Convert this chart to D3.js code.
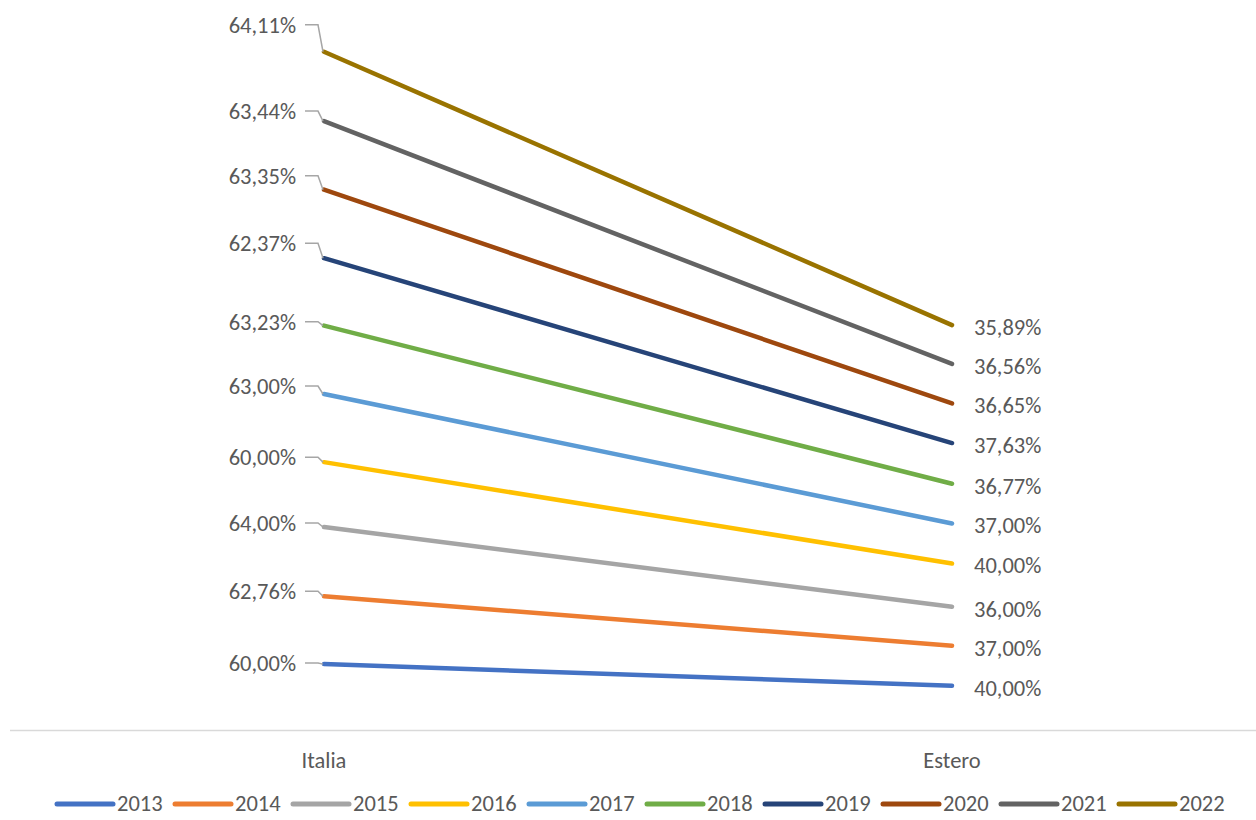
<!DOCTYPE html>
<html>
<head>
<meta charset="utf-8">
<script src="https://cdn.jsdelivr.net/npm/d3@7"></script>
<style>
  html, body { margin: 0; padding: 0; background: #fff; overflow: hidden; }
  svg { display: block; font-family: Carlito, Calibri, Lato, "Liberation Sans", sans-serif; }
</style>
</head>
<body>
<svg id="chart" width="1256" height="820"></svg>
<script>
// Quota percentuale Italia / Estero per anno (linee impilate)
const categories = ["Italia", "Estero"];
const years = ["2013", "2014", "2015", "2016", "2017", "2018", "2019", "2020", "2021", "2022"];
const italia = [60.00, 62.76, 64.00, 60.00, 63.00, 63.23, 62.37, 63.35, 63.44, 64.11];
const estero = [40.00, 37.00, 36.00, 40.00, 37.00, 36.77, 37.63, 36.65, 36.56, 35.89];
const colors = ["#4472C4", "#ED7D31", "#A5A5A5", "#FFC000", "#5B9BD5",
                "#70AD47", "#264478", "#9E480E", "#636363", "#997300"];

// Vertical nudges (px) for the Italia labels, which sit above-left with leader lines
const italiaLabelShift = [-1, -5, -4, -5, -8, -4, -15, -14, -10, -27];

const svg = d3.select("#chart");
const textColor = "#595959";
const fontSize = 22.5;

const x = d3.scalePoint().domain(categories).range([10, 1266]).padding(0.5);
const y = d3.scaleLinear().domain([0, 700]).range([729, -28]);

// Stack the two categories so each year sits on top of the previous ones
const rows = years.map((yr, i) => ({ Italia: italia[i], Estero: estero[i] }));
const stacked = categories.map(cat => {
  const s = d3.stack().keys(years)([Object.fromEntries(years.map((yr, i) => [yr, rows[i][cat]]))]);
  return s.map(layer => layer[0][1]);
});
const series = years.map((yr, i) => ({
  year: yr, color: colors[i],
  values: categories.map((cat, c) => ({ cat, top: stacked[c][i], raw: rows[i][cat] }))
}));

// Category axis baseline
svg.append("line")
  .attr("x1", 10).attr("x2", 1256)
  .attr("y1", 730.5).attr("y2", 730.5)
  .attr("stroke", "#d9d9d9").attr("stroke-width", 1.5);

svg.append("g").selectAll("text").data(categories).join("text")
  .attr("x", d => x(d)).attr("y", 768)
  .attr("text-anchor", "middle")
  .attr("fill", textColor).attr("font-size", fontSize)
  .text(d => d);

const line = d3.line().x(d => x(d.cat)).y(d => y(d.top));

svg.append("g").selectAll("path").data(series).join("path")
  .attr("d", d => line(d.values))
  .attr("fill", "none")
  .attr("stroke", d => d.color)
  .attr("stroke-width", 4.5)
  .attr("stroke-linecap", "round");

const fmt = v => v.toFixed(2).replace(".", ",") + "%";

// Italia labels with leader lines
const leftG = svg.append("g");
series.forEach((s, i) => {
  const p = s.values[0];
  const px = x(p.cat), py = y(p.top);
  const ly = py + italiaLabelShift[i];
  const textRight = px - 28;
  leftG.append("polyline")
    .attr("points", [[textRight + 9, ly], [px - 6, ly], [px - 1, py]].map(q => q.join(",")).join(" "))
    .attr("fill", "none").attr("stroke", "#a6a6a6").attr("stroke-width", 1.5);
  leftG.append("text")
    .attr("x", textRight).attr("y", ly).attr("dy", "0.35em")
    .attr("text-anchor", "end")
    .attr("fill", textColor).attr("font-size", fontSize)
    .text(fmt(p.raw));
});

// Estero labels to the right of the end points
svg.append("g").selectAll("text").data(series).join("text")
  .attr("x", d => x("Estero") + 22)
  .attr("y", d => y(d.values[1].top) + 2).attr("dy", "0.35em")
  .attr("fill", textColor).attr("font-size", fontSize)
  .text(d => fmt(d.values[1].raw));

// Legend
const legend = svg.append("g").selectAll("g").data(series).join("g")
  .attr("transform", (d, i) => `translate(${57 + i * 118},804)`);
legend.append("line")
  .attr("x1", 0).attr("x2", 56).attr("y1", 0).attr("y2", 0)
  .attr("stroke", d => d.color).attr("stroke-width", 5).attr("stroke-linecap", "round");
legend.append("text")
  .attr("x", 60).attr("y", 0).attr("dy", "0.33em")
  .attr("fill", textColor).attr("font-size", fontSize)
  .text(d => d.year);
</script>
</body>
</html>
